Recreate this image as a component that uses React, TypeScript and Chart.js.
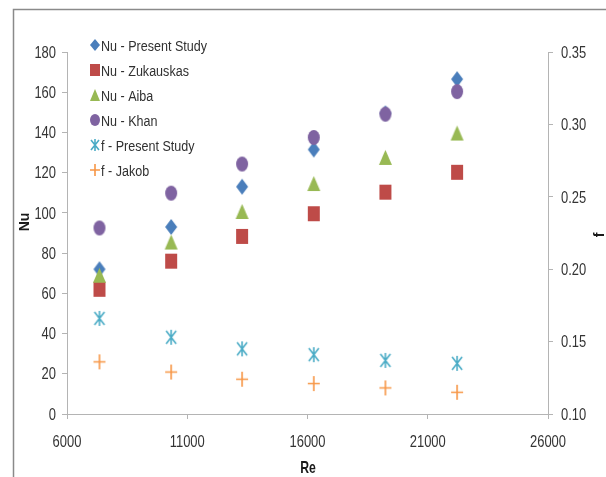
import React, { useEffect, useRef } from "react";
import { Chart, registerables } from "chart.js";
Chart.register(...registerables);

// ---- data ----
const reynolds = [7350, 10330, 13280, 16260, 19240, 22220];
const nuPresent = [72, 93, 113, 131.5, 149.5, 166.5];
const nuZukauskas = [62, 76, 88.3, 99.6, 110.3, 120.2];
const nuAiba = [69, 85.5, 100.7, 114.6, 127.6, 139.7];
const nuKhan = [92.5, 109.8, 124.3, 137.5, 149.1, 160.3];
const fPresent = [0.166, 0.153, 0.145, 0.141, 0.137, 0.135];
const fJakob = [0.136, 0.129, 0.124, 0.121, 0.118, 0.115];
const seriesLabels = [
  "Nu - Present Study",
  "Nu - Zukauskas",
  "Nu - Aiba",
  "Nu - Khan",
  "f - Present Study",
  "f - Jakob",
];
const xTitle = "Re";
const yTitle = "Nu";
const y1Title = "f";

const FONT = "'Liberation Sans', Arial, sans-serif";
const TEXT = "#343434";
const AXIS = "#b4b4b4";
const SX = 0.81; // horizontal compression of the text

type Kind = "diamond" | "square" | "triangle" | "circle" | "star" | "plus";

function makeMarker(kind: Kind, color: string, w: number, h: number) {
  const c = document.createElement("canvas");
  c.width = w + 2;
  c.height = h + 2;
  const ctx = c.getContext("2d")!;
  ctx.translate(1, 1);
  ctx.fillStyle = color;
  ctx.strokeStyle = color;
  ctx.lineWidth = 1.6;
  ctx.beginPath();
  if (kind === "diamond") {
    ctx.moveTo(w / 2, 0);
    ctx.lineTo(w, h / 2);
    ctx.lineTo(w / 2, h);
    ctx.lineTo(0, h / 2);
    ctx.closePath();
    ctx.fill();
  } else if (kind === "square") {
    ctx.rect(0, 0, w, h);
    ctx.fill();
  } else if (kind === "triangle") {
    ctx.moveTo(w / 2, 0);
    ctx.lineTo(w, h);
    ctx.lineTo(0, h);
    ctx.closePath();
    ctx.fill();
  } else if (kind === "circle") {
    ctx.ellipse(w / 2, h / 2, w / 2, h / 2, 0, 0, Math.PI * 2);
    ctx.fill();
  } else if (kind === "star") {
    ctx.moveTo(1, 1);
    ctx.lineTo(w - 1, h - 1);
    ctx.moveTo(w - 1, 1);
    ctx.lineTo(1, h - 1);
    ctx.moveTo(w / 2, 0);
    ctx.lineTo(w / 2, h);
    ctx.stroke();
  } else {
    ctx.moveTo(w / 2, 0);
    ctx.lineTo(w / 2, h);
    ctx.moveTo(0, h / 2);
    ctx.lineTo(w, h / 2);
    ctx.stroke();
  }
  return c;
}

const kinds: Kind[] = ["diamond", "square", "triangle", "circle", "star", "plus"];
const colors = ["#4A7EBB", "#BE4B48", "#98B954", "#7F63A1", "#4BACC6", "#F79646"];
const sizes: [number, number][] = [[12, 16], [12, 15], [13, 15], [12, 15], [12, 15], [12, 15]];
const legendSizes: [number, number][] = [[10, 12], [10, 12], [10, 12], [10, 12], [10, 12], [10, 12]];

function drawText(ctx: any, text: string, x: number, y: number, align: string, sx: number) {
  ctx.save();
  ctx.translate(x, y);
  ctx.scale(sx, 1);
  ctx.textAlign = align;
  ctx.fillText(text, 0, 0);
  ctx.restore();
}

export default function App() {
  const ref = useRef<HTMLCanvasElement>(null);
  useEffect(() => {
    const markers = kinds.map((k, i) => makeMarker(k, colors[i], sizes[i][0], sizes[i][1]));
    const legendMarkers = kinds.map((k, i) =>
      makeMarker(k, colors[i], legendSizes[i][0], legendSizes[i][1])
    );
    const series = [nuPresent, nuZukauskas, nuAiba, nuKhan, fPresent, fJakob];
    const datasets = series.map((vals, i) => ({
      label: seriesLabels[i],
      data: reynolds.map((x, j) => ({ x, y: vals[j] })),
      yAxisID: i < 4 ? "y" : "y1",
      pointStyle: markers[i] as any,
      pointRadius: 7,
      showLine: false,
      backgroundColor: colors[i],
      borderColor: colors[i],
      order: 6 - i,
    }));

    const decor = {
      id: "decor",
      beforeDraw(chart: any) {
        const ctx = chart.ctx;
        ctx.save();
        ctx.fillStyle = "#ffffff";
        ctx.fillRect(0, 0, chart.width, chart.height);
        ctx.strokeStyle = "#8a8a8a";
        ctx.lineWidth = 1.5;
        ctx.beginPath();
        ctx.moveTo(13.5, chart.height);
        ctx.lineTo(13.5, 9.5);
        ctx.lineTo(chart.width, 9.5);
        ctx.stroke();
        ctx.restore();
      },
      afterDraw(chart: any) {
        const ctx = chart.ctx;
        ctx.save();
        ctx.textBaseline = "alphabetic";
        // tick labels
        ctx.font = `16px ${FONT}`;
        ctx.fillStyle = TEXT;
        const xs = chart.scales.x;
        xs.ticks.forEach((t: any) => {
          drawText(ctx, String(t.value), xs.getPixelForValue(t.value), 441 + 5.7, "center", SX);
        });
        const ys = chart.scales.y;
        ys.ticks.forEach((t: any) => {
          drawText(ctx, String(Math.round(t.value)), 56, ys.getPixelForValue(t.value) + 5.7, "right", SX);
        });
        const y1 = chart.scales.y1;
        y1.ticks.forEach((t: any) => {
          drawText(ctx, Number(t.value).toFixed(2), 561, y1.getPixelForValue(t.value) + 5.7, "left", SX);
        });
        // legend
        ctx.font = `15.5px ${FONT}`;
        ctx.fillStyle = "#303030";
        seriesLabels.forEach((lab, i) => {
          const cy = 45 + i * 25;
          const m = legendMarkers[i];
          ctx.drawImage(m, 95 - m.width / 2, cy - m.height / 2);
          drawText(ctx, lab, 101, cy + 5.6, "left", SX);
        });
        // axis titles
        ctx.fillStyle = "#1a1a1a";
        ctx.font = `bold 17px ${FONT}`;
        drawText(ctx, xTitle, 308, 473, "center", 0.72);
        ctx.font = `bold 14px ${FONT}`;
        ctx.save();
        ctx.translate(29, 222);
        ctx.rotate(-Math.PI / 2);
        ctx.textAlign = "center";
        ctx.fillText(yTitle, 0, 0);
        ctx.restore();
        ctx.save();
        ctx.translate(604, 235);
        ctx.rotate(-Math.PI / 2);
        ctx.textAlign = "center";
        ctx.fillText(y1Title, 0, 0);
        ctx.restore();
        ctx.restore();
      },
    };

    const tickOpts = { display: false };
    const chart = new Chart(ref.current!, {
      type: "scatter",
      data: { datasets: datasets as any },
      plugins: [decor],
      options: {
        animation: false,
        responsive: false,
        layout: { padding: { top: 52, left: 0, right: 0, bottom: 0 } },
        plugins: { legend: { display: false }, tooltip: { enabled: false } },
        scales: {
          x: {
            type: "linear",
            min: 6000,
            max: 26000,
            ticks: { ...tickOpts, stepSize: 5000 },
            grid: { drawOnChartArea: false, tickLength: 5, color: AXIS },
            border: { color: AXIS },
            afterFit: (s: any) => {
              s.height = 63;
            },
          },
          y: {
            type: "linear",
            position: "left",
            min: 0,
            max: 180,
            ticks: { ...tickOpts, stepSize: 20 },
            grid: { drawOnChartArea: false, tickLength: 5, color: AXIS },
            border: { color: AXIS },
            afterFit: (s: any) => {
              s.width = 67;
            },
          },
          y1: {
            type: "linear",
            position: "right",
            min: 0.1,
            max: 0.35,
            ticks: { ...tickOpts, stepSize: 0.05 },
            grid: { drawOnChartArea: false, tickLength: 5, color: AXIS },
            border: { color: AXIS },
            afterFit: (s: any) => {
              s.width = 58;
            },
          },
        },
      } as any,
    });
    return () => chart.destroy();
  }, []);
  return (
    <div style={{ position: "fixed", left: 0, top: 0, width: 606, height: 477 }}>
      <canvas ref={ref} width={606} height={477} style={{ width: 606, height: 477, display: "block" }} />
    </div>
  );
}
